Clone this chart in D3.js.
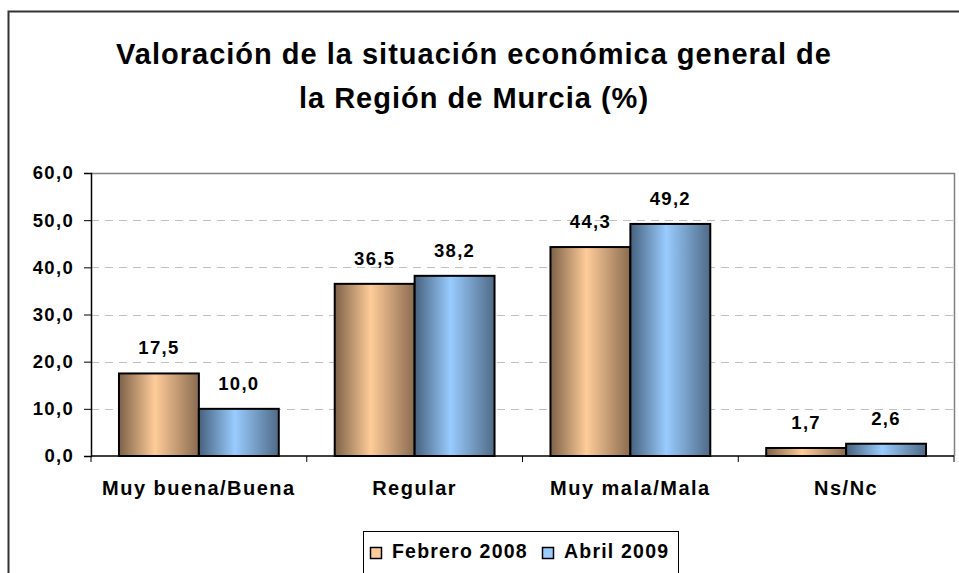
<!DOCTYPE html>
<html>
<head>
<meta charset="utf-8">
<script src="https://cdn.jsdelivr.net/npm/d3@7"></script>
<style>
  body { margin: 0; background: #fff; }
  svg { display: block; font-family: "Liberation Sans", Arial, sans-serif; }
</style>
</head>
<body>
<svg id="chart" width="959" height="573"></svg>
<script>
var categories = ["Muy buena/Buena", "Regular", "Muy mala/Mala", "Ns/Nc"];
var seriesNames = ["Febrero 2008", "Abril 2009"];
var feb2008 = [17.5, 36.5, 44.3, 1.7];
var abr2009 = [10.0, 38.2, 49.2, 2.6];
var yTicks = [0, 10, 20, 30, 40, 50, 60];
var titleLines = ["Valoración de la situación económica general de", "la Región de Murcia (%)"];

var svg = d3.select("#chart"),
    width = +svg.attr("width"),
    height = +svg.attr("height");

var plot = { left: 91, right: 954, top: 173, bottom: 456 };
var fmt = function(v) { return v.toFixed(1).replace(".", ","); };

var defs = svg.append("defs");
function grad(id, dark, light, dark2) {
  var g = defs.append("linearGradient").attr("id", id)
      .attr("x1", "0%").attr("x2", "100%").attr("y1", "0%").attr("y2", "0%");
  g.append("stop").attr("offset", "0%").attr("stop-color", dark);
  g.append("stop").attr("offset", "45%").attr("stop-color", light);
  g.append("stop").attr("offset", "100%").attr("stop-color", dark2);
}
grad("g0", "#7d6148", "#ffcc99", "#8a6b50");
grad("g1", "#46617d", "#99ccff", "#4f6a86");
var fills = ["url(#g0)", "url(#g1)"];
var swatch = ["#ffcc99", "#99ccff"];

// outer frame
svg.append("rect")
    .attr("x", 8.5).attr("y", 11.5)
    .attr("width", 980).attr("height", 600)
    .attr("fill", "none").attr("stroke", "#333").attr("stroke-width", 2);

// title
svg.append("g").selectAll("text")
  .data(titleLines)
  .enter().append("text")
    .attr("x", 474)
    .attr("y", function(d, i) { return 64 + i * 44; })
    .attr("text-anchor", "middle")
    .attr("font-size", 29)
    .attr("letter-spacing", 1)
    .attr("font-weight", "bold")
    .attr("fill", "#000")
    .text(function(d) { return d; });

var x0 = d3.scaleBand().domain(categories).range([plot.left, plot.right]).paddingInner(0).paddingOuter(0);
var x1 = d3.scaleBand().domain([0, 1]).range([0, x0.bandwidth()]).paddingInner(0).paddingOuter(0.35);
var y = d3.scaleLinear().domain([0, 60]).range([plot.bottom, plot.top]);

// gridlines
svg.append("g").selectAll("line")
  .data(yTicks.filter(function(d) { return d > 0 && d < 60; }))
  .enter().append("line")
    .attr("x1", plot.left).attr("x2", plot.right)
    .attr("y1", function(d) { return Math.round(y(d)) + 0.5; })
    .attr("y2", function(d) { return Math.round(y(d)) + 0.5; })
    .attr("stroke", "#c0c0c0")
    .attr("stroke-dasharray", "8,6");

// plot border (top, right)
svg.append("path")
    .attr("d", "M" + plot.left + "," + (plot.top + 0.5) + "H" + (plot.right + 0.5) + "V" + plot.bottom)
    .attr("fill", "none").attr("stroke", "#808080").attr("stroke-width", 1.5);

// bars
var data = [feb2008, abr2009];
var groups = svg.append("g").selectAll("g")
  .data(categories)
  .enter().append("g")
    .attr("transform", function(d) { return "translate(" + x0(d) + ",0)"; });

groups.selectAll("rect")
  .data(function(d, i) { return data.map(function(s, k) { return { k: k, v: s[i] }; }); })
  .enter().append("rect")
    .attr("x", function(d) { return x1(d.k); })
    .attr("y", function(d) { return y(d.v); })
    .attr("width", x1.bandwidth())
    .attr("height", function(d) { return y(0) - y(d.v); })
    .attr("fill", function(d) { return fills[d.k]; })
    .attr("stroke", "#000")
    .attr("stroke-width", 2);

groups.selectAll("text")
  .data(function(d, i) { return data.map(function(s, k) { return { k: k, v: s[i] }; }); })
  .enter().append("text")
    .attr("x", function(d) { return x1(d.k) + x1.bandwidth() / 2; })
    .attr("y", function(d) { return y(d.v) - 19; })
    .attr("text-anchor", "middle")
    .attr("font-size", 18.5)
    .attr("letter-spacing", 1.3)
    .attr("font-weight", "bold")
    .text(function(d) { return fmt(d.v); });

// y axis
var yAxis = svg.append("g")
    .attr("transform", "translate(" + plot.left + ",0)")
    .call(d3.axisLeft(y).tickValues(yTicks).tickSize(7).tickPadding(10).tickFormat(fmt));
yAxis.select(".domain").attr("stroke", "#000").attr("stroke-width", 1.5);
yAxis.selectAll(".tick line").attr("stroke", "#000");
yAxis.selectAll("text")
    .attr("font-family", "Liberation Sans, Arial, sans-serif")
    .attr("font-size", 18.5).attr("letter-spacing", 1.3)
    .attr("font-weight", "bold").attr("fill", "#000");

// x axis
var xAxis = svg.append("g")
    .attr("transform", "translate(0," + plot.bottom + ")");
xAxis.append("line")
    .attr("x1", plot.left).attr("x2", plot.right)
    .attr("stroke", "#000").attr("stroke-width", 1.5);
xAxis.selectAll("line.tk")
  .data(categories.concat(["end"]))
  .enter().append("line")
    .attr("class", "tk")
    .attr("x1", function(d, i) { return plot.left + i * x0.bandwidth(); })
    .attr("x2", function(d, i) { return plot.left + i * x0.bandwidth(); })
    .attr("y1", 0).attr("y2", 6)
    .attr("stroke", "#000");
xAxis.selectAll("text")
  .data(categories)
  .enter().append("text")
    .attr("x", function(d) { return x0(d) + x0.bandwidth() / 2; })
    .attr("y", 39)
    .attr("text-anchor", "middle")
    .attr("font-size", 20)
    .attr("letter-spacing", 1.5)
    .attr("font-weight", "bold")
    .text(function(d) { return d; });

// legend
var legend = svg.append("g");
legend.append("rect")
    .attr("x", 363.5).attr("y", 531.5)
    .attr("width", 315).attr("height", 60)
    .attr("fill", "#fff").attr("stroke", "#000");
var li = legend.selectAll("g")
  .data(seriesNames)
  .enter().append("g")
    .attr("transform", function(d, i) { return "translate(" + (370 + i * 172) + ",0)"; });
li.append("rect")
    .attr("x", 0.5).attr("y", 547.5)
    .attr("width", 11).attr("height", 11)
    .attr("fill", function(d, i) { return swatch[i]; })
    .attr("stroke", "#000").attr("stroke-width", 1.5);
li.append("text")
    .attr("x", 22).attr("y", 558)
    .attr("font-size", 19.5)
    .attr("letter-spacing", 1.2)
    .attr("font-weight", "bold")
    .text(function(d) { return d; });
</script>
</body>
</html>
